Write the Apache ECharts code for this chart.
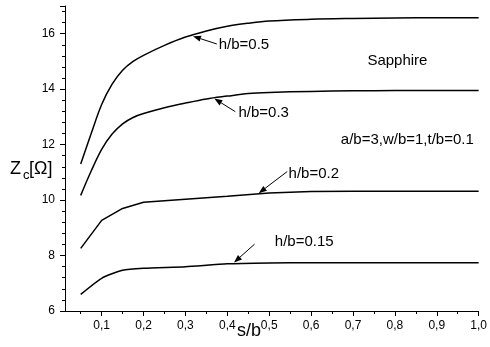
<!DOCTYPE html>
<html><head><meta charset="utf-8">
<script src="https://cdn.jsdelivr.net/npm/echarts@6/dist/echarts.min.js"></script>
<style>html,body{margin:0;padding:0;background:#fff}#c{width:490px;height:347px}</style>
</head><body><div id="c"></div>
<script>
const sb = [0.05,0.075,0.1,0.125,0.15,0.175,0.2,0.25,0.3,0.35,0.4,0.45,0.5,0.6,0.7,0.8,0.9,1.0];
const hb05 = [11.3,12.4,13.45,14.18,14.68,15.0,15.22,15.58,15.88,16.1,16.27,16.38,16.46,16.52,16.55,16.57,16.58,16.58];
const hb03 = [10.17,11.05,11.83,12.38,12.75,12.98,13.12,13.33,13.5,13.65,13.75,13.84,13.88,13.92,13.94,13.95,13.95,13.95];
const sbB = [0.05,0.1,0.15,0.2,0.3,0.4,0.5,0.6,0.7,0.8,0.9,1.0];
const hb02 = [8.26,9.27,9.7,9.92,10.03,10.14,10.26,10.31,10.32,10.32,10.32,10.32];
const hb015 = [6.6,7.18,7.47,7.54,7.6,7.7,7.73,7.74,7.74,7.74,7.74,7.74];
const xTickLabels = [0.1,0.2,0.3,0.4,0.5,0.6,0.7,0.8,0.9,1.0];
const xMinorTicks = [0.05,0.15,0.25,0.35,0.45,0.55,0.65,0.75,0.85,0.95];
// annotations: text, text anchor (data), arrow tail (data), arrow tip (data)
const annLabels = ['h/b=0.5','h/b=0.3','h/b=0.2','h/b=0.15'];
const annText = [[0.3795,15.6],[0.4266,13.155],[0.5463,10.948],[0.5134,8.486]];
const annTail = [[0.375,15.63],[0.419,13.19],[0.543,11.03],[0.465,8.41]];
const annTip = [[0.318,15.91],[0.369,13.66],[0.475,10.25],[0.416,7.75]];
const noteTexts = ['Sapphire','a/b=3,w/b=1,t/b=0.1'];
const notePos = [[0.7344,15.02],[0.6709,12.18]];

const FONT = '"Liberation Sans", Arial, sans-serif';
const chart = echarts.init(document.getElementById('c'), null, {renderer:'canvas'});
const pair = (xs, ys) => xs.map((x,i)=>[x, ys[i]]);
const lineSeries = (d, sm) => ({type:'line', data:d, showSymbol:false, symbol:'none', smooth:sm, lineStyle:{color:'#000', width:1.5}, silent:true, animation:false});
const grid = {left:65, right:5, top:6, bottom:36};
const fmt = v => v.toFixed(1).replace('.',',');
chart.setOption({
  animation:false,
  grid: grid,
  xAxis: [{
    type:'value', min:0.0125, max:1.0,
    axisLine:{show:true, lineStyle:{color:'#000', width:1}},
    splitLine:{show:false},
    axisTick:{show:true, length:5, lineStyle:{color:'#000'}, customValues: xTickLabels},
    axisLabel:{show:true, customValues: xTickLabels, formatter: fmt, color:'#000', fontSize:12, fontFamily:FONT, margin:9},
  },{
    type:'value', min:0.0125, max:1.0, position:'bottom',
    axisLine:{show:false}, splitLine:{show:false},
    axisTick:{show:true, length:3, lineStyle:{color:'#000'}, customValues: xMinorTicks},
    axisLabel:{show:false}
  }],
  yAxis: {
    type:'value', min:6, max:17, interval:2,
    axisLine:{show:true, lineStyle:{color:'#000', width:1}},
    splitLine:{show:false},
    axisTick:{show:true, length:5, lineStyle:{color:'#000'}},
    minorTick:{show:true, splitNumber:5, length:3, lineStyle:{color:'#000'}},
    axisLabel:{color:'#000', fontSize:12, fontFamily:FONT, margin:10, showMaxLabel:false}
  },
  series: [lineSeries(pair(sb,hb05),0.35), lineSeries(pair(sb,hb03),0.35), lineSeries(pair(sbB,hb02),false), lineSeries(pair(sbB,hb015),0.2)]
});

const gr = [];
for (let i=0;i<annLabels.length;i++){
  const tl = chart.convertToPixel({gridIndex:0}, annTail[i]);
  const tp = chart.convertToPixel({gridIndex:0}, annTip[i]);
  const tx = chart.convertToPixel({gridIndex:0}, annText[i]);
  const ang = Math.atan2(tp[1]-tl[1], tp[0]-tl[0]);
  const L = 8, W = 3;
  const bx = tp[0]-L*Math.cos(ang), by = tp[1]-L*Math.sin(ang);
  gr.push({type:'line', shape:{x1:tl[0],y1:tl[1],x2:bx,y2:by}, style:{stroke:'#000', lineWidth:1}});
  gr.push({type:'polygon', shape:{points:[[tp[0],tp[1]],[bx+W*Math.sin(ang), by-W*Math.cos(ang)],[bx-W*Math.sin(ang), by+W*Math.cos(ang)]]}, style:{fill:'#000'}});
  gr.push({type:'text', x:tx[0], y:tx[1], style:{text:annLabels[i], fill:'#000', font:'15px '+FONT, textAlign:'left', textVerticalAlign:'middle'}});
}
for (let i=0;i<noteTexts.length;i++){
  const p = chart.convertToPixel({gridIndex:0}, notePos[i]);
  gr.push({type:'text', x:p[0], y:p[1], style:{text:noteTexts[i], fill:'#000', font:'15px '+FONT, textAlign:'left', textVerticalAlign:'middle'}});
}
// axis titles
gr.push({type:'text', x:10, y:169, style:{text:'Z', fill:'#000', font:'18px '+FONT, textAlign:'left', textVerticalAlign:'middle'}});
gr.push({type:'text', x:23, y:175, style:{text:'c', fill:'#000', font:'13px '+FONT, textAlign:'left', textVerticalAlign:'middle'}});
gr.push({type:'text', x:29, y:169, style:{text:'[Ω]', fill:'#000', font:'18px '+FONT, textAlign:'left', textVerticalAlign:'middle'}});
gr.push({type:'text', x:249, y:331, style:{text:'s/b', fill:'#000', font:'18px '+FONT, textAlign:'center', textVerticalAlign:'middle'}});
chart.setOption({graphic: gr});
</script></body></html>
